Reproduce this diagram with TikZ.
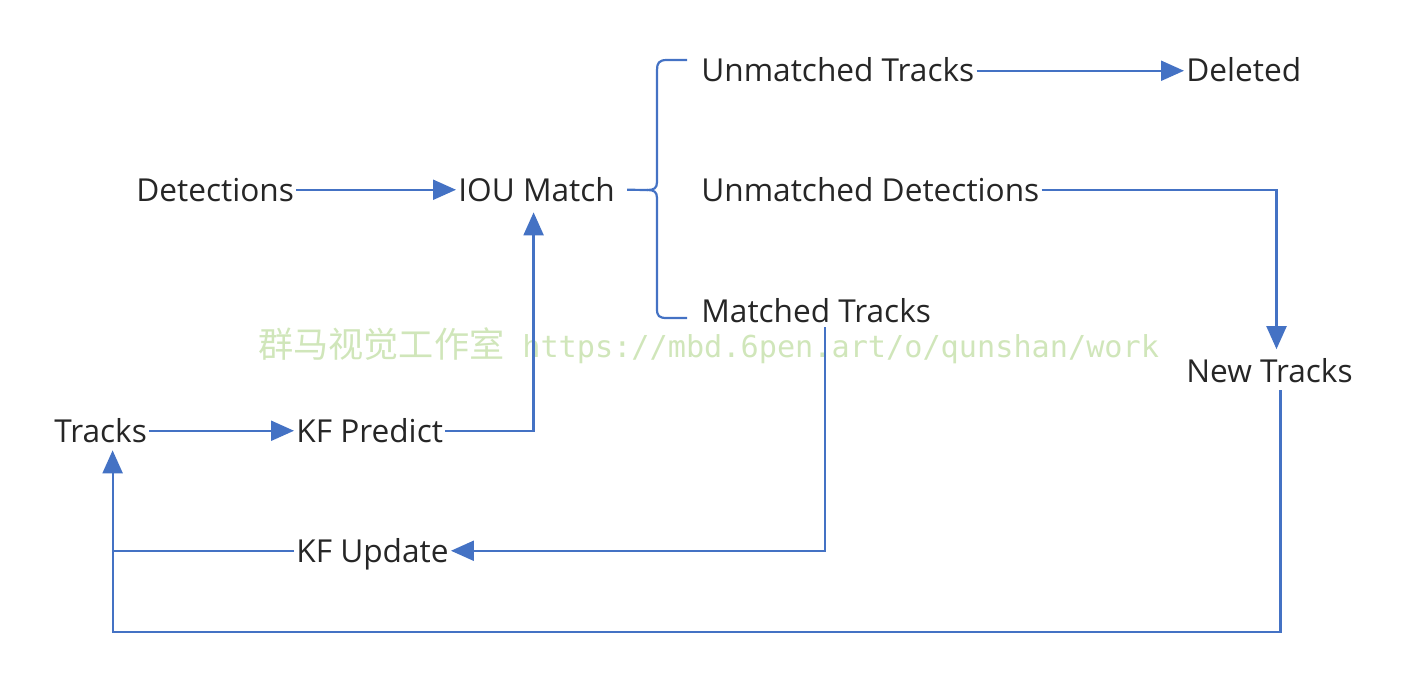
\documentclass[tikz,border=0pt]{standalone}
\usepackage{fontspec}
\setmainfont{Open Sans}
\newfontfamily\cjk{Noto Sans CJK SC}
\newfontfamily\wmmono{DejaVu Sans Mono}
\usetikzlibrary{arrows.meta}
\definecolor{lineblue}{RGB}{68,114,196}
\definecolor{txt}{RGB}{38,38,38}
\definecolor{wmgreen}{RGB}{208,230,186}
\tikzset{
  lbl/.style={text=txt, inner sep=0.04cm, anchor=base west, text height=12.8pt, text depth=0pt,
    font=\fontsize{18}{20}\selectfont},
  conn/.style={draw=lineblue, line width=1.25pt},
  arr/.style={conn, -{Triangle[length=0.46cm,width=0.4cm]}},
  wm/.style={text=wmgreen, anchor=base west, inner sep=0pt}
}
\begin{document}
\begin{tikzpicture}[x=0.02cm,y=-0.02cm]
\useasboundingbox (0,0) rectangle (1413,686);
% nodes
\node[lbl] (det) at (134,201) {Detections};
\node[lbl] (iou) at (456,201) {IOU Match};
\node[lbl] (ut)  at (699,82)  {Unmatched Tracks};
\node[lbl] (del) at (1184,82) {Deleted};
\node[lbl] (ud)  at (699,201) {Unmatched Detections};
\node[lbl] (mt)  at (699,322) {Matched Tracks};
\node[lbl] (nt)  at (1184,382) {New Tracks};
\node[lbl] (tr)  at (52,442)  {Tracks};
\node[lbl] (kfp) at (294,442) {KF Predict};
\node[lbl] (kfu) at (294,562) {KF Update};
% watermark
\node[wm] (wmk) at (258,357) {{\cjk\fontsize{20}{22}\selectfont 群马视觉工作室}\hspace{0.36cm}{\wmmono\fontsize{17.2}{20}\selectfont https://mbd.6pen.art/o/qunshan/work}};
% helper coordinates
\coordinate (iouin) at ([xshift=-0.06cm,yshift=-0.18cm]iou.south);
\coordinate (ntin)  at ([xshift=0.14cm,yshift=0.16cm]nt.north);
\coordinate (ntout) at ([xshift=0.22cm,yshift=-0.12cm]nt.south);
\coordinate (trin)  at ([xshift=0.24cm,yshift=-0.12cm]tr.south);
\coordinate (mtout) at ([xshift=0.18cm,yshift=-0.06cm]mt.south);
\coordinate (bot)   at (0,632);
% connectors
\draw[arr] (det) -- (iou);
\draw[arr] (tr) -- (kfp);
\draw[arr] (kfp.east) -| (iouin);
\draw[arr] (ut) -- (del);
\draw[arr] (ud.east) -| (ntin);
\draw[arr] (mtout) |- (kfu.east);
\draw[conn] (kfu.west) -- (kfu.west -| trin);
\draw[arr] (ntout) -- (ntout |- bot) -| (trin);
% brace
\draw[conn] ([xshift=0.2cm]iou.east) -- (648,190);
\draw[conn] (687,60) -- (667,60) .. controls (659,60) and (657,63) .. (657,70)
  -- (657,182) .. controls (657,188) and (654,190) .. (648,190)
  .. controls (654,190) and (657,192) .. (657,198)
  -- (657,309) .. controls (657,316) and (659,318) .. (667,318) -- (687,318);
\end{tikzpicture}
\end{document}
